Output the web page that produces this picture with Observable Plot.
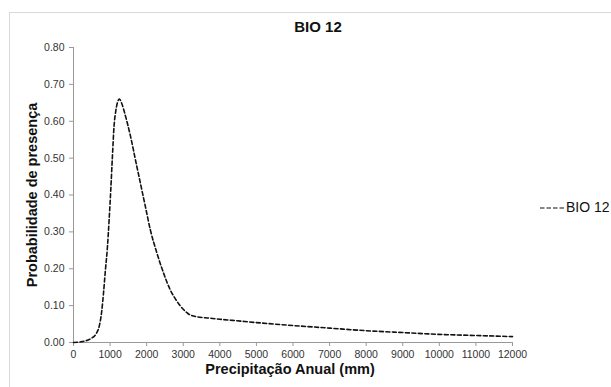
<!DOCTYPE html>
<html>
<head>
<meta charset="utf-8">
<script src="https://cdn.jsdelivr.net/npm/d3@7"></script>
<script src="https://cdn.jsdelivr.net/npm/@observablehq/plot@0.6"></script>
<style>
  html, body { margin: 0; padding: 0; background: #fff; overflow: hidden; }
  #wrap { position: relative; width: 611px; height: 387px; font-family: "Liberation Sans", Arial, sans-serif; }
  #border { position: absolute; left: 9px; top: 12px; width: 700px; height: 500px; border: 1px solid #d9d9d9; box-sizing: border-box; }
  #chart { position: absolute; left: 0; top: 0; }
  #legend { position: absolute; left: 540px; top: 199px; font-size: 14px; color: #111; white-space: nowrap; display: flex; align-items: center; }
</style>
</head>
<body>
<div id="wrap">
  <div id="border"></div>
  <div id="chart"></div>
  <div id="legend"><svg width="25" height="6" style="margin-right:1px"><line x1="0" y1="4" x2="25" y2="4" stroke="#111" stroke-width="1.2" stroke-dasharray="4.5,2"/></svg>BIO 12</div>
</div>
<script>
const precip = [0, 210, 480, 615, 705, 767, 821, 866, 929, 974, 1019, 1064, 1108, 1153, 1253, 1334, 1424, 1559, 1694, 1829, 1964, 2099, 2279, 2459, 2639, 2819, 3000, 3135, 3360, 3720, 4000, 4350, 5000, 6000, 7000, 8000, 9000, 10000, 11000, 12000];
const prob   = [0, 0.002, 0.011, 0.023, 0.045, 0.081, 0.135, 0.189, 0.261, 0.333, 0.414, 0.505, 0.586, 0.626, 0.660, 0.644, 0.613, 0.559, 0.495, 0.432, 0.369, 0.306, 0.243, 0.189, 0.144, 0.113, 0.090, 0.078, 0.070, 0.066, 0.063, 0.060, 0.054, 0.046, 0.039, 0.032, 0.027, 0.022, 0.019, 0.016];
const xTicks = [0,1000,2000,3000,4000,5000,6000,7000,8000,9000,10000,11000,12000];
const yTicks = [0,0.1,0.2,0.3,0.4,0.5,0.6,0.7,0.8];
const title = "BIO 12";
const xLabel = "Precipitação Anual (mm)";
const yLabel = "Probabilidade de presença";

const data = precip.map((x, i) => ({x, y: prob[i]}));

const chart = Plot.plot({
  width: 611,
  height: 387,
  marginLeft: 73,
  marginRight: 99,
  marginTop: 47,
  marginBottom: 45,
  style: {fontFamily: "Liberation Sans, Arial, sans-serif", fontSize: "10.5px", color: "#333", background: "transparent"},
  x: {domain: [0, 12000], ticks: xTicks, tickFormat: d3.format("d"), label: null},
  y: {domain: [0, 0.8], ticks: yTicks, tickFormat: d3.format(".2f"), label: null},
  marks: [
    Plot.ruleX([0], {stroke: "#999"}),
    Plot.ruleY([0], {stroke: "#999"}),
    Plot.axisX({ticks: xTicks, tickFormat: d3.format("d"), tickSize: 4, stroke: "#999", tickPadding: 4, label: null, fill: "#333"}),
    Plot.axisY({ticks: yTicks, tickFormat: d3.format(".2f"), tickSize: 4, stroke: "#999", tickPadding: 5, label: null, fill: "#333"}),
    Plot.line(data, {x: "x", y: "y", stroke: "#111", strokeWidth: 1.6, strokeDasharray: "4,2.5", curve: "monotone-x"}),
    Plot.text([title], {frameAnchor: "top", dy: -26, dx: 25, text: d => d, fontWeight: "bold", fontSize: 15, fill: "#111"}),
    Plot.text([xLabel], {frameAnchor: "bottom", dy: 31, dx: -3, text: d => d, fontWeight: "bold", fontSize: 14.5, fill: "#111"}),
    Plot.text([yLabel], {frameAnchor: "left", dx: -41, rotate: -90, textAnchor: "middle", text: d => d, fontWeight: "bold", fontSize: 14.5, fill: "#111"})
  ]
});
document.getElementById("chart").appendChild(chart);
</script>
</body>
</html>
